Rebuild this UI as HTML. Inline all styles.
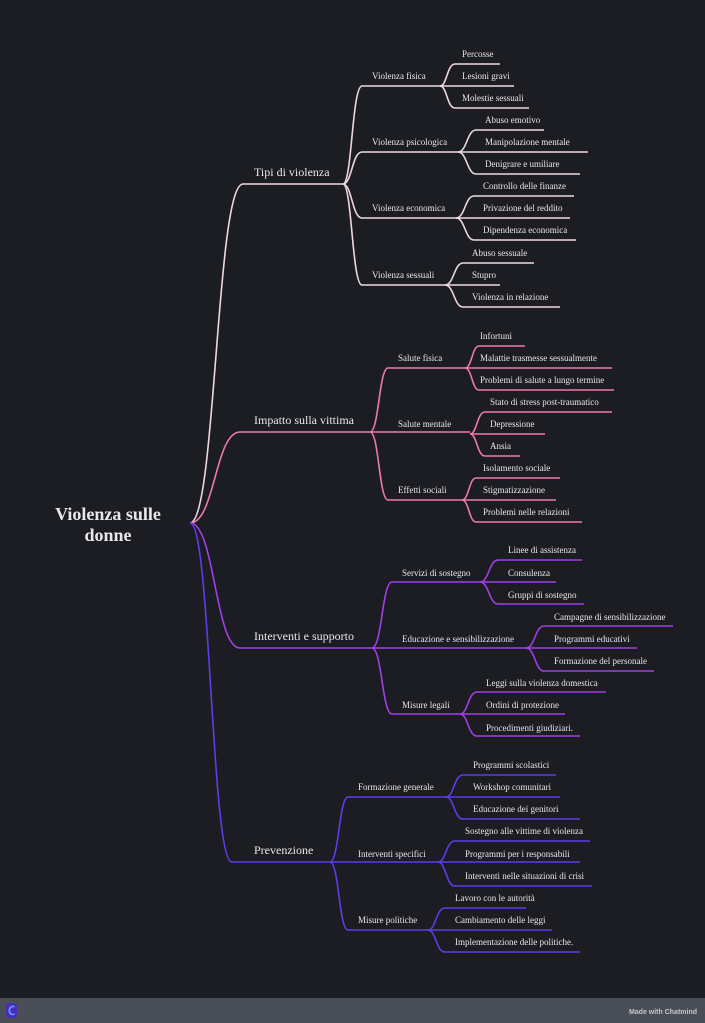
<!DOCTYPE html>
<html><head><meta charset="utf-8"><style>
html,body{margin:0;padding:0;background:#1c1d22;width:705px;height:1023px;overflow:hidden}
svg{display:block}
text{font-family:"Liberation Serif","DejaVu Serif",serif;fill:#e8e8ea}
.l{font-size:9px}
.m{font-size:12px}
.r{font-size:18px;font-weight:bold}
path{fill:none;stroke-width:1.6}
</style></head><body>
<svg width="705" height="1023" viewBox="0 0 705 1023" xmlns="http://www.w3.org/2000/svg">
<rect x="0" y="0" width="705" height="998" fill="#1c1d22"/>
<text class="r" x="108" y="520" text-anchor="middle">Violenza sulle</text>
<text class="r" x="108" y="541" text-anchor="middle">donne</text>

<!-- Tipi -->
<g stroke="#efd6e2">
<path d="M190 523 C216 523 216 184 243 184 L343 184"/>
<path d="M343 184 C352 184 352 86 362 86 L440 86"/>
<path d="M343 184 C352 184 352 152 362 152 L458 152"/>
<path d="M343 184 C352 184 352 218 362 218 L456 218"/>
<path d="M343 184 C352 184 352 285 362 285 L445 285"/>
<path d="M440 86 C447 86 447 64 455 64 L500 64"/>
<path d="M440 86 L514 86"/>
<path d="M440 86 C447 86 447 108 455 108 L529 108"/>
<path d="M458 152 C467 152 467 130 476 130 L544 130"/>
<path d="M458 152 L588 152"/>
<path d="M458 152 C467 152 467 174 476 174 L580 174"/>
<path d="M456 218 C465 218 465 196 474 196 L574 196"/>
<path d="M456 218 L570 218"/>
<path d="M456 218 C465 218 465 240 474 240 L576 240"/>
<path d="M445 285 C454 285 454 263 463 263 L534 263"/>
<path d="M445 285 L500 285"/>
<path d="M445 285 C454 285 454 307 463 307 L560 307"/>
</g>
<text class="m" x="254" y="176">Tipi di violenza</text>
<text class="l" x="372" y="79">Violenza fisica</text>
<text class="l" x="372" y="145">Violenza psicologica</text>
<text class="l" x="372" y="211">Violenza economica</text>
<text class="l" x="372" y="278">Violenza sessuali</text>
<text class="l" x="462" y="57">Percosse</text>
<text class="l" x="462" y="79">Lesioni gravi</text>
<text class="l" x="462" y="101">Molestie sessuali</text>
<text class="l" x="485" y="123">Abuso emotivo</text>
<text class="l" x="485" y="145">Manipolazione mentale</text>
<text class="l" x="485" y="167">Denigrare e umiliare</text>
<text class="l" x="483" y="189">Controllo delle finanze</text>
<text class="l" x="483" y="211">Privazione del reddito</text>
<text class="l" x="483" y="233">Dipendenza economica</text>
<text class="l" x="472" y="256">Abuso sessuale</text>
<text class="l" x="472" y="278">Stupro</text>
<text class="l" x="472" y="300">Violenza in relazione</text>

<!-- Impatto -->
<g stroke="#ee7aaa">
<path d="M190 523 C215 523 215 432 240 432 L370 432"/>
<path d="M370 432 C379 432 379 368 388 368 L465 368"/>
<path d="M370 432 L470 432"/>
<path d="M370 432 C379 432 379 500 388 500 L462 500"/>
<path d="M465 368 C472 368 472 346 479 346 L525 346"/>
<path d="M465 368 L612 368"/>
<path d="M465 368 C472 368 472 390 479 390 L614 390"/>
<path d="M470 434 C477 434 477 412 485 412 L612 412"/>
<path d="M470 434 L545 434"/>
<path d="M470 434 C477 434 477 456 485 456 L520 456"/>
<path d="M462 500 C469 500 469 478 476 478 L560 478"/>
<path d="M462 500 L556 500"/>
<path d="M462 500 C469 500 469 522 476 522 L582 522"/>
</g>
<text class="m" x="254" y="424">Impatto sulla vittima</text>
<text class="l" x="398" y="361">Salute fisica</text>
<text class="l" x="398" y="427">Salute mentale</text>
<text class="l" x="398" y="493">Effetti sociali</text>
<text class="l" x="480" y="339">Infortuni</text>
<text class="l" x="480" y="361">Malattie trasmesse sessualmente</text>
<text class="l" x="480" y="383">Problemi di salute a lungo termine</text>
<text class="l" x="490" y="405">Stato di stress post-traumatico</text>
<text class="l" x="490" y="427">Depressione</text>
<text class="l" x="490" y="449">Ansia</text>
<text class="l" x="483" y="471">Isolamento sociale</text>
<text class="l" x="483" y="493">Stigmatizzazione</text>
<text class="l" x="483" y="515">Problemi nelle relazioni</text>

<!-- Interventi -->
<g stroke="#a23fe6">
<path d="M190 523 C215 523 215 648 240 648 L372 648"/>
<path d="M372 648 C382 648 382 582 392 582 L480 582"/>
<path d="M372 648 L526 648"/>
<path d="M372 648 C382 648 382 714 392 714 L460 714"/>
<path d="M480 582 C489 582 489 560 498 560 L582 560"/>
<path d="M480 582 L556 582"/>
<path d="M480 582 C489 582 489 604 498 604 L584 604"/>
<path d="M526 648 C535 648 535 626 544 626 L673 626"/>
<path d="M526 648 L637 648"/>
<path d="M526 648 C535 648 535 671 544 671 L654 671"/>
<path d="M460 714 C468 714 468 692 477 692 L606 692"/>
<path d="M460 714 L565 714"/>
<path d="M460 714 C468 714 468 736 477 736 L580 736"/>
</g>
<text class="m" x="254" y="640">Interventi e supporto</text>
<text class="l" x="402" y="576">Servizi di sostegno</text>
<text class="l" x="402" y="642">Educazione e sensibilizzazione</text>
<text class="l" x="402" y="708">Misure legali</text>
<text class="l" x="508" y="553">Linee di assistenza</text>
<text class="l" x="508" y="576">Consulenza</text>
<text class="l" x="508" y="598">Gruppi di sostegno</text>
<text class="l" x="554" y="620">Campagne di sensibilizzazione</text>
<text class="l" x="554" y="642">Programmi educativi</text>
<text class="l" x="554" y="664">Formazione del personale</text>
<text class="l" x="486" y="686">Leggi sulla violenza domestica</text>
<text class="l" x="486" y="708">Ordini di protezione</text>
<text class="l" x="486" y="731">Procedimenti giudiziari.</text>

<!-- Prevenzione -->
<g stroke="#5c3de8">
<path d="M190 523 C211 523 211 862 232 862 L330 862"/>
<path d="M330 862 C339 862 339 797 348 797 L446 797"/>
<path d="M330 862 L438 862"/>
<path d="M330 862 C339 862 339 930 348 930 L428 930"/>
<path d="M446 797 C454 797 454 775 463 775 L556 775"/>
<path d="M446 797 L560 797"/>
<path d="M446 797 C454 797 454 819 463 819 L580 819"/>
<path d="M438 862 C446 862 446 841 455 841 L590 841"/>
<path d="M438 862 L580 862"/>
<path d="M438 862 C446 862 446 886 455 886 L592 886"/>
<path d="M428 930 C436 930 436 908 445 908 L526 908"/>
<path d="M428 930 L552 930"/>
<path d="M428 930 C436 930 436 952 445 952 L580 952"/>
</g>
<text class="m" x="254" y="854">Prevenzione</text>
<text class="l" x="358" y="790">Formazione generale</text>
<text class="l" x="358" y="857">Interventi specifici</text>
<text class="l" x="358" y="923">Misure politiche</text>
<text class="l" x="473" y="768">Programmi scolastici</text>
<text class="l" x="473" y="790">Workshop comunitari</text>
<text class="l" x="473" y="812">Educazione dei genitori</text>
<text class="l" x="465" y="834">Sostegno alle vittime di violenza</text>
<text class="l" x="465" y="857">Programmi per i responsabili</text>
<text class="l" x="465" y="879">Interventi nelle situazioni di crisi</text>
<text class="l" x="455" y="901">Lavoro con le autorità</text>
<text class="l" x="455" y="923">Cambiamento delle leggi</text>
<text class="l" x="455" y="945">Implementazione delle politiche.</text>

<!-- footer -->
<rect x="0" y="998" width="705" height="25" fill="#4a4f57"/>
<rect x="6" y="1003" width="11" height="15" rx="3" fill="#4b2bb8"/>
<path d="M14.5 1007 A3.5 4 0 1 0 14.5 1014" stroke="#4aa6ff" stroke-width="2"/>
<text x="697" y="1014" text-anchor="end" style="font-family:'Liberation Sans',sans-serif;font-size:7px;fill:#c4c6ca;font-weight:bold">Made with Chatmind</text>
</svg>
</body></html>
